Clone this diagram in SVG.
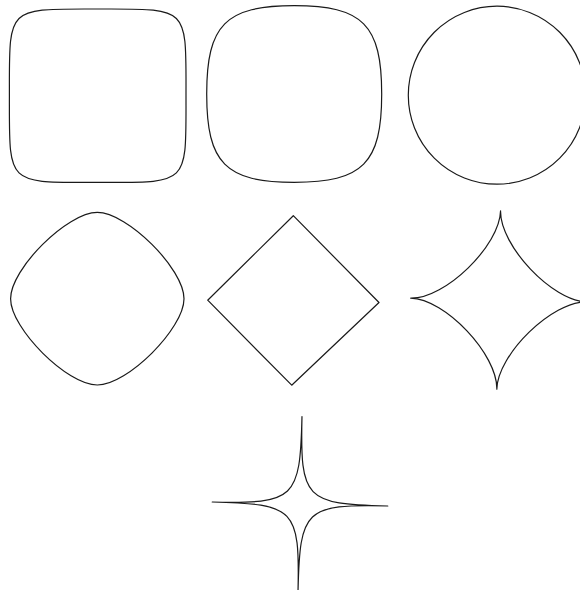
<svg xmlns="http://www.w3.org/2000/svg" width="580" height="590" viewBox="0 0 580 590">
  <style>
    .shape { fill: none; stroke: #1a1a1a; stroke-width: 1.2; stroke-linejoin: round; }
  </style>
  <rect x="0" y="0" width="580" height="590" fill="#ffffff"/>
  <g id="superellipse-n6" transform="translate(97.7,95.7)">
    <path class="shape" d="M 88.3,0 C 88.3,90.4 92,86.7 0,86.7 C -92,86.7 -88.3,90.4 -88.3,0 C -88.3,-90.4 -92,-86.7 0,-86.7 C 92,-86.7 88.3,-90.4 88.3,0 Z"/>
  </g>
  <g id="superellipse-n3" transform="translate(294.2,94)">
    <path class="shape" d="M 87.5,0 C 87.5,69.2 68.5,88.3 0,88.3 C -68.5,88.3 -87.5,69.2 -87.5,0 C -87.5,-69.2 -68.5,-88.3 0,-88.3 C 68.5,-88.3 87.5,-69.2 87.5,0 Z"/>
  </g>
  <g id="superellipse-n2">
    <ellipse class="shape" cx="497" cy="95.2" rx="88.7" ry="89"/>
  </g>
  <g id="superellipse-n1_5" transform="translate(97.3,298.7)">
    <path class="shape" d="M 86.7,0 C 86.7,29.9 30.1,86.3 0,86.3 C -30.1,86.3 -86.7,29.9 -86.7,0 C -86.7,-29.9 -30.1,-86.3 0,-86.3 C 30.1,-86.3 86.7,-29.9 86.7,0 Z"/>
  </g>
  <g id="superellipse-n1">
    <polygon class="shape" points="293.3,215.7 379,302.5 291.7,385.2 207.7,300.2"/>
  </g>
  <g id="superellipse-n0_67" transform="translate(498.7,300) rotate(1.2)">
    <path class="shape" d="M 88,0 C 53.6,0 0,54.4 0,89.2 C 0,54.4 -53.6,0 -88,0 C -53.6,0 0,-54.4 0,-89.2 C 0,-54.4 53.6,0 88,0 Z"/>
  </g>
  <g id="superellipse-n0_36" transform="translate(300,504) rotate(1.3)">
    <path class="shape" d="M 87.8,0 C 4.9,0 0,4.8 0,87.5 C 0,4.8 -4.9,0 -87.8,0 C -4.9,0 0,-4.8 0,-87.5 C 0,-4.8 4.9,0 87.8,0 Z"/>
  </g>
</svg>
